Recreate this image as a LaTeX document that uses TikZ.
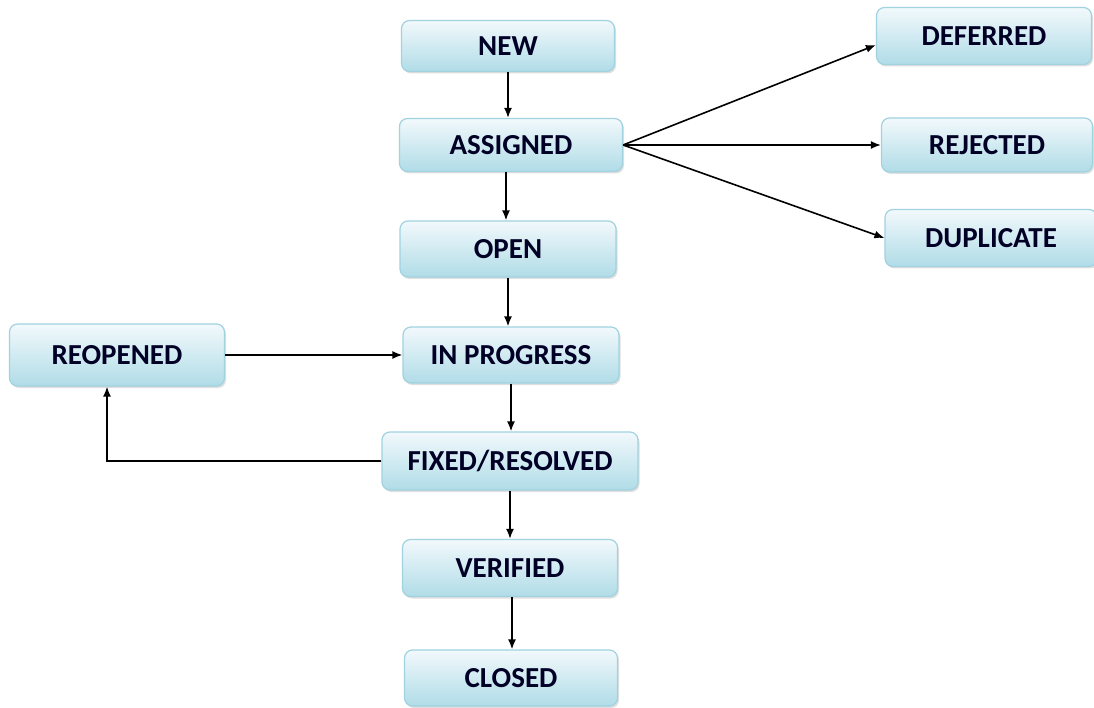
\documentclass[tikz,border=0pt]{standalone}
\usepackage{fontspec}
\setmainfont{Carlito}
\usetikzlibrary{arrows.meta,shadows}
\definecolor{statoalto}{RGB}{242,249,252}
\definecolor{statobasso}{RGB}{176,220,231}
\definecolor{statobordo}{RGB}{160,210,224}
\tikzset{
  stato/.style={draw=statobordo,line width=1.2pt,rounded corners=8pt,
    top color=statoalto,bottom color=statobasso,minimum height=55pt,inner sep=0pt,
    font=\fontsize{29}{32}\selectfont\bfseries,text=black!85!blue,
    drop shadow={shadow xshift=1.5pt,shadow yshift=-2pt,opacity=0.25}},
  freccia/.style={-{Latex[length=10pt,width=8pt]},line width=1.6pt}
}
\begin{document}
\begin{tikzpicture}[x=1pt,y=-1pt]
         \useasboundingbox (0,0) rectangle (1094,708);
         %stati principali
         \node[stato,minimum width=213pt,minimum height=51pt] (new) at (508,46) {NEW};
         \node[stato,minimum width=223pt,minimum height=53pt] (assigned) at (511,145) {ASSIGNED};
         \node[stato,minimum width=216pt,minimum height=56pt] (open) at (508,249) {OPEN};
         \node[stato,minimum width=216pt,minimum height=56pt] (inprogress) at (511,355) {IN PROGRESS};
         \node[stato,minimum width=256pt,minimum height=58pt] (fixed) at (510,461) {FIXED/RESOLVED};
         \node[stato,minimum width=215pt,minimum height=57pt] (verified) at (510,568) {VERIFIED};
         \node[stato,minimum width=213pt,minimum height=56pt] (closed) at (511,678) {CLOSED};
         %riapertura
         \node[stato,minimum width=215pt,minimum height=62pt] (reopened) at (117,355) {REOPENED};
         %stati laterali
         \node[stato,minimum width=215pt,minimum height=57pt] (deferred) at (984,36) {DEFERRED};
         \node[stato,minimum width=211pt,minimum height=54pt] (rejected) at (987,145) {REJECTED};
         \node[stato,minimum width=212pt,minimum height=57pt] (duplicate) at (991,238) {DUPLICATE};
         %frecce verticali
         \draw[freccia] (new) -- (assigned.north -| new);
         \draw[freccia] (assigned.south -| 506,0) -- (open.north -| 506,0);
         \draw[freccia] (open) -- (inprogress.north -| open);
         \draw[freccia] (inprogress) -- (fixed.north -| inprogress);
         \draw[freccia] (fixed) -- (verified);
         \draw[freccia] (verified.south -| 512,0) -- (closed.north -| 512,0);
         %ciclo di riapertura
         \draw[freccia] (reopened) -- (inprogress);
         \draw[freccia] (fixed.west) -| ([xshift=-10pt]reopened.south);
         %ventaglio da ASSIGNED
         \draw[freccia] (assigned.east) -- ([yshift=-9pt]deferred.west);
         \draw[freccia] (assigned.east) -- (rejected.west);
         \draw[freccia] (assigned.east) -- (duplicate.west);
\end{tikzpicture}
\end{document}
